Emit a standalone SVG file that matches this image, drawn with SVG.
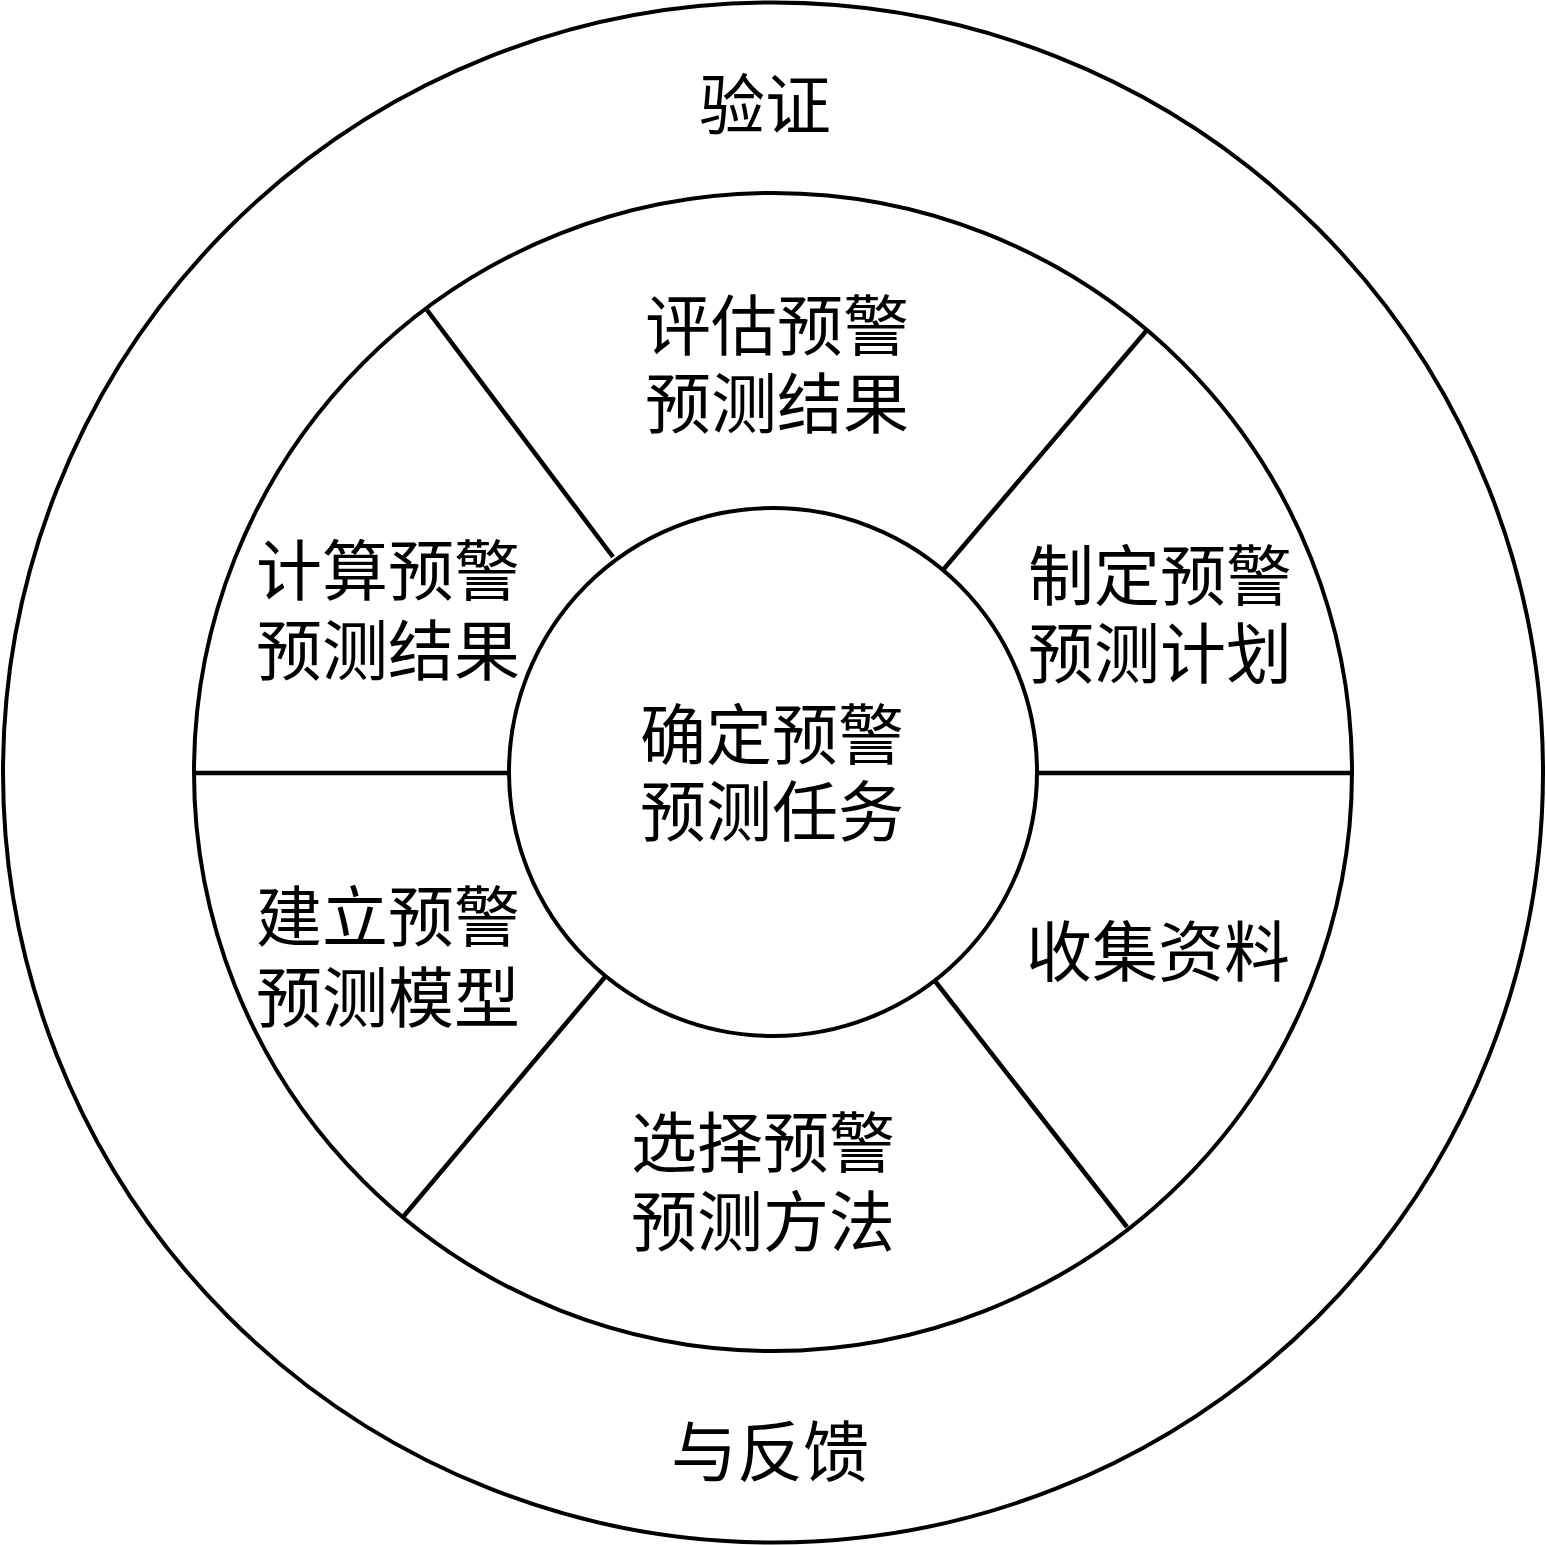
<svg xmlns="http://www.w3.org/2000/svg" width="1546" height="1545" viewBox="0 0 1546 1545">
<style>
.ring{fill:none;stroke:#000;stroke-width:4}
.spoke{stroke:#000;stroke-width:4.5;fill:none}
.t{font-family:"Liberation Serif","Noto Sans CJK SC",serif;font-size:66px;fill:#000;text-anchor:middle}
</style>
<rect width="1546" height="1545" fill="#fff"/>
<g id="outer-ring">
<circle class="ring" cx="773" cy="772.5" r="770"/>
<text class="t" x="765" y="129">验证</text>
<text class="t" x="770" y="1476">与反馈</text>
</g>
<g id="middle-ring">
<circle class="ring" cx="773" cy="772" r="579"/>
</g>
<g id="connectors">
<line class="spoke" x1="194" y1="773" x2="510" y2="773"/>
<line class="spoke" x1="1036" y1="773" x2="1352" y2="773"/>
<line class="spoke" x1="427" y1="310" x2="613" y2="557"/>
<line class="spoke" x1="1147" y1="330" x2="943" y2="570"/>
<line class="spoke" x1="605" y1="977" x2="403" y2="1217"/>
<line class="spoke" x1="935" y1="981" x2="1127" y2="1227"/>
</g>
<g id="center">
<circle class="ring" cx="773" cy="772" r="264" fill="#fff"/>
<text class="t" x="772" y="759">确定预警</text>
<text class="t" x="772" y="836">预测任务</text>
</g>
<g id="evaluate">
<text class="t" x="777" y="350">评估预警</text>
<text class="t" x="777" y="428">预测结果</text>
</g>
<g id="plan">
<text class="t" x="1160" y="600">制定预警</text>
<text class="t" x="1160" y="678">预测计划</text>
</g>
<g id="collect">
<text class="t" x="1158" y="976">收集资料</text>
</g>
<g id="method">
<text class="t" x="763" y="1167">选择预警</text>
<text class="t" x="763" y="1246">预测方法</text>
</g>
<g id="model">
<text class="t" x="388" y="941">建立预警</text>
<text class="t" x="388" y="1022">预测模型</text>
</g>
<g id="compute">
<text class="t" x="388" y="595">计算预警</text>
<text class="t" x="388" y="675">预测结果</text>
</g>
</svg>
